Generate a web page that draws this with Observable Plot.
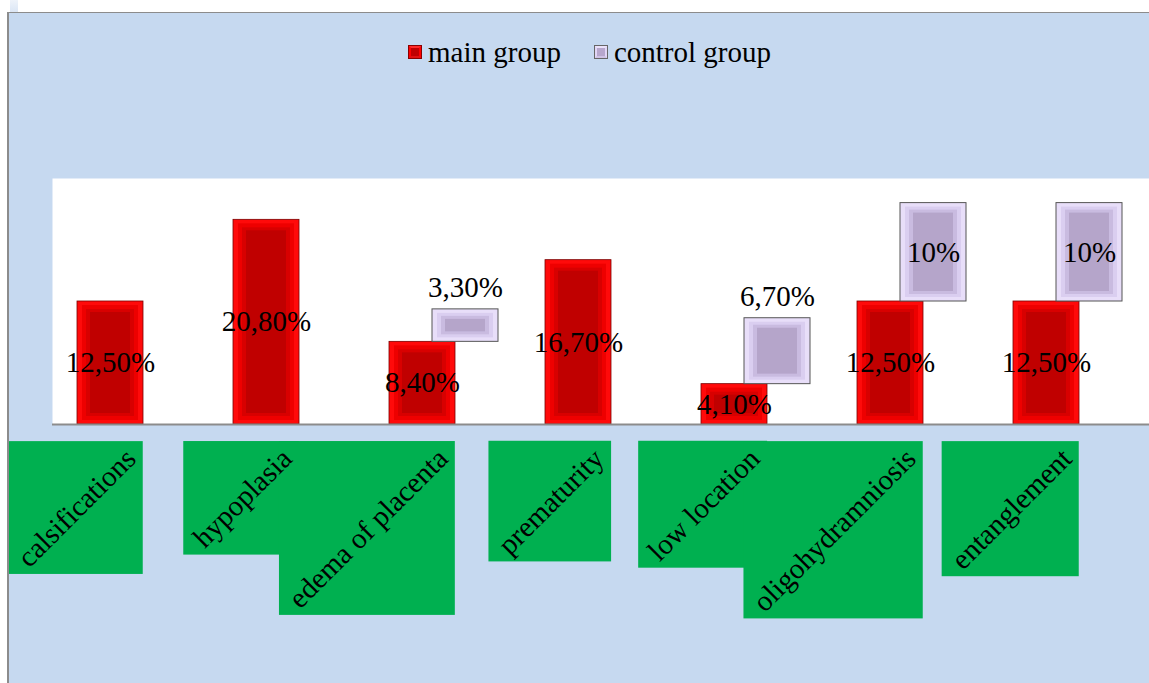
<!DOCTYPE html>
<html><head><meta charset="utf-8">
<script src="https://cdn.jsdelivr.net/npm/d3@7"></script>
<script src="https://cdn.jsdelivr.net/npm/@observablehq/plot@0.6"></script>
<style>
html,body{margin:0;padding:0;background:#fff;overflow:hidden;width:1149px;height:683px;}
#corner{position:absolute;left:10px;top:0;width:8px;height:12px;background:linear-gradient(#eef3fa,#dbe6f5);}
#wrap{position:absolute;left:7px;top:12px;width:1142px;height:670px;background:#c6d9f0;border-top:1px solid #8c8c8c;border-left:2px solid #8c8c8c;}
#legend{height:75px;box-sizing:border-box;padding-top:23px;padding-left:399px;display:flex;align-items:flex-start;font-family:"Liberation Serif",serif;font-size:29px;line-height:32px;color:#000;}
.item{display:flex;align-items:center;}
.sw{width:14px;height:14px;box-sizing:border-box;margin-right:6px;border:3px solid;}
.sw.main{background:#c00000;border-color:#ff2a2a #ff0000 #e01010 #ff0000;outline:1px solid #8a0000;outline-offset:-1px;}
.sw.ctrl{background:#b7a7cd;border-color:#ebe2fa #e2d6f6 #cfc2e4 #e2d6f6;outline:1px solid #666;outline-offset:-1px;}
#wrap svg{display:block;}
</style>
</head><body>
<div id="corner"></div>
<div id="wrap">
  <div id="legend">
    <div class="item" style="margin-right:33px"><span class="sw main"></span><span>main group</span></div>
    <div class="item"><span class="sw ctrl"></span><span>control group</span></div>
  </div>
</div>
<script>
const categories = ["calsifications","hypoplasia","edema of placenta","prematurity","low location","oligohydramniosis","entanglement"];
const mainValues = [12.5, 20.8, 8.4, 16.7, 4.1, 12.5, 12.5];
const controlValues = [null, null, 3.3, null, 6.7, 10, 10];
const mainLabels = ["12,50%","20,80%","8,40%","16,70%","4,10%","12,50%","12,50%"];
const controlLabels = [null, null, "3,30%", null, "6,70%", "10%", "10%"];

const mainRows = categories.map((c,i)=>({cat:c, v:mainValues[i], label:mainLabels[i]}));
const ctrlRows = categories.map((c,i)=>({cat:c, base:mainValues[i], v:controlValues[i], label:controlLabels[i]})).filter(d=>d.v!=null);

const W = 1142, H = 595;
const ctrlShift = 43;
const FS = 29;
const plot = Plot.plot({
  width: W, height: H,
  marginTop: 90, marginBottom: 259, marginLeft: 43, marginRight: 0,
  style: {background: "transparent", fontFamily: "Liberation Serif", color: "#000"},
  x: {domain: categories, range: [66, 1071], paddingInner: 0.58, paddingOuter: 0, axis: null},
  y: {domain: [0, 25], axis: null},
  marks: [
    Plot.frame({fill: "white", stroke: "none"}),
    // main group bars (bevel: bright outer, dark inner)
    Plot.barY(mainRows, {x: "cat", y1: 0, y2: "v", fill: "#ff0a0a", stroke: "#7a0000", strokeWidth: 0.8}),
    Plot.barY(mainRows, {x: "cat", y1: 0, y2: "v", fill: "#ee0000", insetLeft: 5, insetRight: 5, insetTop: 4, insetBottom: 4}),
    Plot.barY(mainRows, {x: "cat", y1: 0, y2: "v", fill: "#d80000", insetLeft: 9, insetRight: 9, insetTop: 8, insetBottom: 8}),
    Plot.barY(mainRows, {x: "cat", y1: 0, y2: "v", fill: "#c00000", insetLeft: 13, insetRight: 13, insetTop: 11, insetBottom: 11}),
    // control group bars stacked on main
    Plot.barY(ctrlRows, {x: "cat", y1: "base", y2: d => d.base + d.v, dx: ctrlShift, fill: "#e8def9", stroke: "#555", strokeWidth: 1}),
    Plot.barY(ctrlRows, {x: "cat", y1: "base", y2: d => d.base + d.v, dx: ctrlShift, fill: "#dacef0", insetLeft: 5, insetRight: 5, insetTop: 4, insetBottom: 4}),
    Plot.barY(ctrlRows, {x: "cat", y1: "base", y2: d => d.base + d.v, dx: ctrlShift, fill: "#c9bbe0", insetLeft: 9, insetRight: 9, insetTop: 7, insetBottom: 7}),
    Plot.barY(ctrlRows, {x: "cat", y1: "base", y2: d => d.base + d.v, dx: ctrlShift, fill: "#b5a5ca", insetLeft: 13, insetRight: 13, insetTop: 10, insetBottom: 10}),
    Plot.ruleY([0], {stroke: "#8c8c8c", strokeWidth: 2}),
    // value labels
    Plot.text(mainRows, {x: "cat", y: d => d.v / 2, text: "label", fontSize: FS, fill: "#000"}),
    Plot.text(ctrlRows.filter(d => d.v >= 8), {x: "cat", y: d => d.base + d.v / 2, text: "label", dx: ctrlShift, fontSize: FS, fill: "#000"}),
    Plot.text(ctrlRows.filter(d => d.v < 8), {x: "cat", y: d => d.base + d.v, text: "label", dx: ctrlShift, dy: -22, fontSize: FS, fill: "#000"}),
    // category labels
    Plot.text(categories, {x: d => d, text: d => d, frameAnchor: "bottom", dx: 27, dy: 36, rotate: -45, textAnchor: "end", lineAnchor: "bottom", fontSize: FS, fill: "#000", ariaLabel: () => "category-label"})
  ]
});
document.getElementById("wrap").appendChild(plot);

// green boxes behind the category labels
const labels = plot.querySelectorAll('text[aria-label="category-label"]');
if (labels.length) {
  const g = labels[0].parentNode;
  const svgBox = plot.getBoundingClientRect();
  const boxes = document.createElementNS("http://www.w3.org/2000/svg", "g");
  labels.forEach(t => {
    const b = t.getBoundingClientRect();
    const r = document.createElementNS("http://www.w3.org/2000/svg", "rect");
    r.setAttribute("x", b.left - svgBox.left - 3);
    r.setAttribute("y", b.top - svgBox.top - 1);
    r.setAttribute("width", b.width + 4);
    r.setAttribute("height", b.height + 2);
    r.setAttribute("fill", "#00b050");
    boxes.appendChild(r);
  });
  g.parentNode.insertBefore(boxes, g);
}
</script>
</body></html>
